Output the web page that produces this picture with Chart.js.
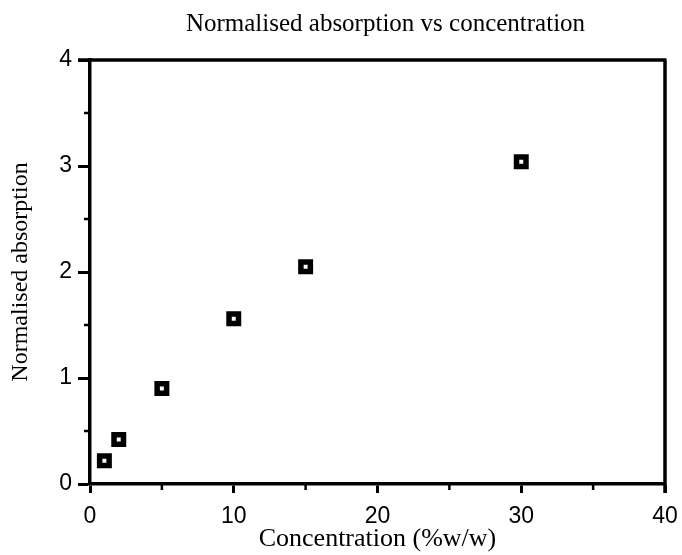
<!DOCTYPE html>
<html>
<head>
<meta charset="utf-8">
<script src="https://cdn.jsdelivr.net/npm/chart.js@4.4.1/dist/chart.umd.min.js"></script>
<style>
  html, body { margin: 0; padding: 0; background: #fff; }
  #wrap { width: 682px; height: 555px; }
</style>
</head>
<body>
<div id="wrap"><canvas id="grafico" width="682" height="555"></canvas></div>
<script>
// datos
const concentracion = [1, 2, 5, 10, 15, 30];
const absorcion = [0.22, 0.42, 0.90, 1.56, 2.05, 3.04];
const ticksX = [0, 10, 20, 30, 40];
const ticksY = [0, 1, 2, 3, 4];
const minorX = [5, 15, 25, 35];
const minorY = [0.5, 1.5, 2.5, 3.5];
const titulo = "Normalised absorption vs concentration";
const tituloX = "Concentration (%w/w)";
const tituloY = "Normalised absorption";

const serif = "'Liberation Serif', 'Times New Roman', serif";
const sans = "'Liberation Sans', Arial, sans-serif";

// marco, ticks menores y titulo
const marco = {
    id: 'marco',
    afterDraw(chart) {
        const ctx = chart.ctx, a = chart.chartArea;
        const sx = chart.scales.x, sy = chart.scales.y;
        ctx.save();
        ctx.strokeStyle = '#000';
        ctx.lineWidth = 3.5;
        ctx.beginPath();
        ctx.moveTo(a.left - 12, a.top); ctx.lineTo(a.right + 1.5, a.top);
        ctx.moveTo(a.right, a.top); ctx.lineTo(a.right, a.bottom + 9);
        ctx.stroke();
        ctx.lineWidth = 2.5;
        ctx.beginPath();
        minorX.forEach(v => { const p = sx.getPixelForValue(v); ctx.moveTo(p, a.bottom); ctx.lineTo(p, a.bottom + 6); });
        minorY.forEach(v => { const p = sy.getPixelForValue(v); ctx.moveTo(a.left, p); ctx.lineTo(a.left - 6, p); });
        ctx.stroke();
        ctx.fillStyle = '#000';
        ctx.font = "25px " + serif;
        ctx.textAlign = 'center';
        ctx.textBaseline = 'alphabetic';
        ctx.fillText(titulo, (a.left + a.right) / 2 + 8, 31);
        ctx.restore();
    }
};

new Chart(document.getElementById('grafico'), {
    type: 'scatter',
    data: {
        datasets: [{
            data: concentracion.map((c, i) => ({ x: c, y: absorcion[i] })),
            pointStyle: 'rect',
            pointRadius: 6.7,
            pointBorderWidth: 5.5,
            pointBackgroundColor: '#fff',
            pointBorderColor: '#000'
        }]
    },
    options: {
        responsive: false,
        animation: false,
        layout: { padding: { top: 60, right: 17, left: 0, bottom: 0 } },
        plugins: { legend: { display: false }, tooltip: { enabled: false }, title: { display: false } },
        scales: {
            x: {
                type: 'linear', min: 0, max: 40,
                afterFit: s => { s.height = 71; s.paddingLeft = 0; s.paddingRight = 0; },
                afterBuildTicks: s => { s.ticks = ticksX.map(v => ({ value: v })); },
                grid: { display: true, drawOnChartArea: false, drawTicks: true, tickLength: 9, tickWidth: 3, tickColor: '#000' },
                border: { display: true, color: '#000', width: 3.5 },
                ticks: { color: '#000', font: { family: sans, size: 23 }, padding: 10, maxRotation: 0 },
                title: { display: true, text: tituloX, color: '#000', font: { family: serif, size: 26 }, padding: { top: 0, bottom: 0 } }
            },
            y: {
                type: 'linear', min: 0, max: 4,
                afterFit: s => { s.width = 90; s.paddingTop = 0; s.paddingBottom = 0; },
                afterBuildTicks: s => { s.ticks = ticksY.map(v => ({ value: v })); },
                grid: { display: true, drawOnChartArea: false, drawTicks: true, tickLength: 12, tickWidth: 3, tickColor: '#000' },
                border: { display: true, color: '#000', width: 3.5 },
                ticks: { color: '#000', font: { family: sans, size: 23 }, padding: 6 },
                title: { display: true, text: tituloY, color: '#000', font: { family: serif, size: 24 }, padding: { top: 6, bottom: 0 } }
            }
        }
    },
    plugins: [marco]
});
</script>
</body>
</html>
